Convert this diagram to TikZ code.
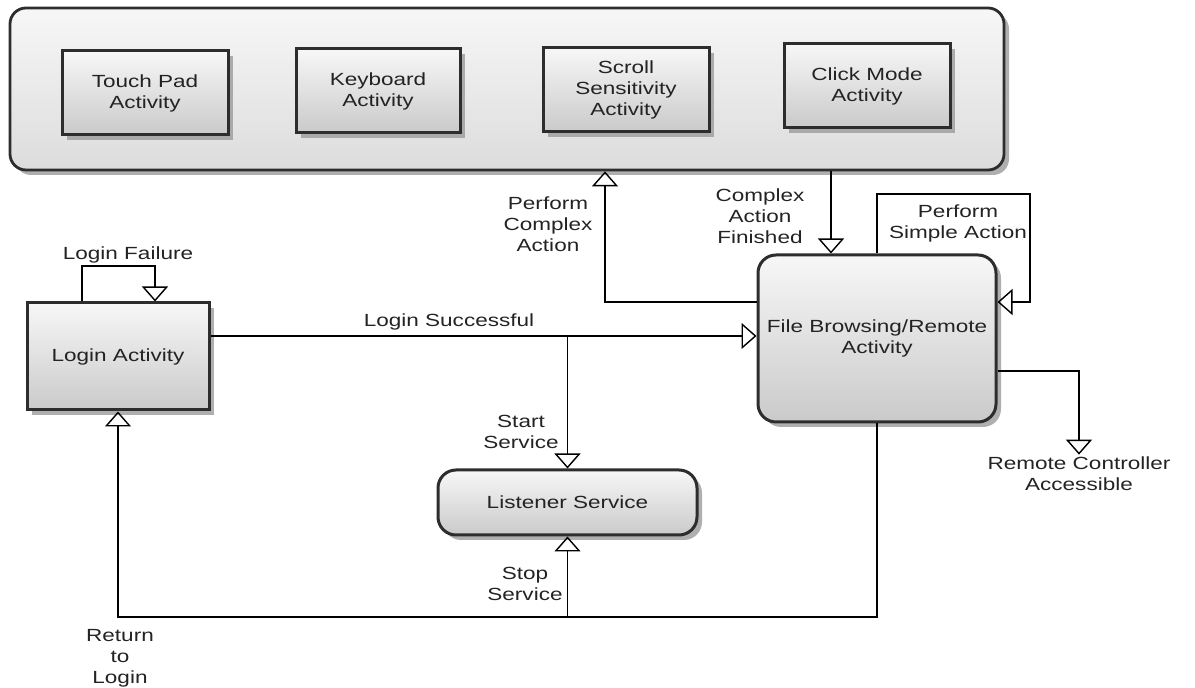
\documentclass[tikz,border=0pt]{standalone}
\usepackage{fontspec}
\setmainfont[FakeStretch=1.28]{Liberation Sans}
\usetikzlibrary{arrows.meta, shadows, calc}
\definecolor{mydark}{RGB}{45,45,45}
\definecolor{mytext}{RGB}{35,35,35}
\definecolor{toplight}{RGB}{247,247,247}
\definecolor{boxgray}{RGB}{202,202,202}
\definecolor{panelgray}{RGB}{220,220,220}
\definecolor{shadegray}{RGB}{155,155,155}
\tikzset{
  panel/.style={rectangle, draw=mydark, line width=1.4pt, rounded corners=8pt,
    top color=toplight, bottom color=panelgray,
    drop shadow={shadow xshift=2.5pt, shadow yshift=-2.5pt, fill=shadegray, opacity=0.8}},
  actbox/.style={rectangle, draw=mydark, line width=1.5pt,
    top color=toplight, bottom color=boxgray, align=center, text=mytext,
    drop shadow={shadow xshift=2.5pt, shadow yshift=-2.5pt, fill=shadegray, opacity=0.8}},
  roundbox/.style={actbox, rounded corners=9pt},
  flow/.style={-{Triangle[open, length=7.5pt, width=13pt]}, line width=0.7pt, color=black},
  lbl/.style={align=center, inner sep=1pt, text=mytext}
}

\begin{document}
\begin{tikzpicture}[x=0.5pt, y=-0.5pt, font=\fontsize{8.8}{10.5}\selectfont]
  \useasboundingbox (0,0) rectangle (1195,688);

  % activity panel
  \node[panel, minimum width=497pt, minimum height=81pt] (panel) at (507,89) {};
  \node[actbox, minimum width=83pt, minimum height=42pt] (touch) at (145,93) {Touch Pad\\Activity};
  \node[actbox, minimum width=82pt, minimum height=42pt] (keyboard) at (378,91) {Keyboard\\Activity};
  \node[actbox, minimum width=83pt, minimum height=42pt] (scroll) at (626,90) {Scroll\\Sensitivity\\Activity};
  \node[actbox, minimum width=83pt, minimum height=42pt] (click) at (867,86) {Click Mode\\Activity};

  % main states
  \node[actbox, minimum width=91pt, minimum height=53.5pt] (login) at (118,356.5) {Login Activity};
  \node[roundbox, minimum width=119pt, minimum height=83.5pt] (browse) at (877,338.5) {File Browsing/Remote\\Activity};
  \node[roundbox, minimum width=129.5pt, minimum height=32.5pt] (listener) at (567.5,502.5) {Listener Service};
  \node[lbl] (remote) at (1079,474) {Remote Controller\\Accessible};

  \coordinate (lf1) at (82,266);
  \coordinate (lf2) at (155,266);
  \coordinate (ls) at (567.5,336);
  \coordinate (rl) at (118,617);
  \coordinate (pc) at (605,302);
  \coordinate (cf) at (831,170);
  \coordinate (ps1) at (877,194);
  \coordinate (ps2) at (1030,302);
  \coordinate (rc) at (1079,371);

  \draw[flow] (login.north -| lf1) -- (lf1) -- (lf2) -- (login.north -| lf2);
  \draw[flow] (login.east |- ls) -- (browse.west |- ls);
  \draw[flow] (ls) -- (listener.north);
  \draw[flow] (browse.south) |- (rl) -- (login.south);
  \draw[flow] (listener.south |- rl) -- (listener.south);
  \draw[flow] (browse.west |- pc) -- (pc) -- (panel.south -| pc);
  \draw[flow] (panel.south -| cf) -- (browse.north -| cf);
  \draw[flow] (browse.north -| ps1) -- (ps1) -| (ps2) -- (browse.east |- ps2);
  \draw[flow] (browse.east |- rc) -- (rc) -- (remote.north);

  \node[lbl] at (128,255) {Login Failure};
  \node[lbl] at (449,322) {Login Successful};
  \node[lbl] at (521,432) {Start\\Service};
  \node[lbl] at (525,584) {Stop\\Service};
  \node[lbl] at (120,658) {Return\\to\\Login};
  \node[lbl] at (548,224) {Perform\\Complex\\Action};
  \node[lbl] at (760,216) {Complex\\Action\\Finished};
  \node[lbl] at (958,223) {Perform\\Simple Action};
\end{tikzpicture}
\end{document}
